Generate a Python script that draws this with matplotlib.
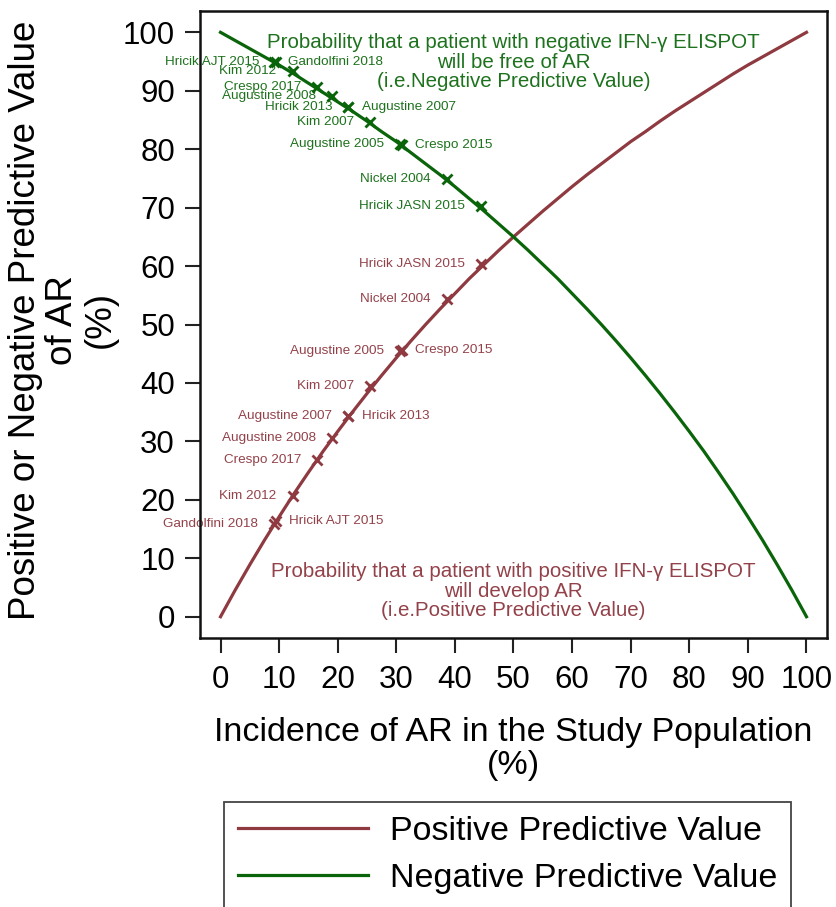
import matplotlib
matplotlib.use("Agg")
import matplotlib.pyplot as plt

plt.rcParams['font.family'] = ['Liberation Sans', 'DejaVu Sans']

# ---- data ----
incidence_grid = [0, 2.5, 5, 7.5, 10, 12.5, 15, 17.5, 20, 22.5, 25, 27.5, 30, 32.5,
                  35, 37.5, 40, 42.5, 45, 47.5, 50, 52.5, 55, 57.5, 60, 62.5,
                  65, 67.5, 70, 72.5, 75, 77.5, 80, 82.5, 85, 87.5, 90, 92.5,
                  95, 97.5, 100]
ppv_curve = [0.0, 4.55, 8.9, 13.1, 17.1, 21.0, 24.7, 28.3, 31.7, 35.0, 38.2,
             41.3, 44.3, 47.2, 50.0, 52.7, 55.3, 57.9, 60.3, 62.7, 65.0,
             67.2, 69.4, 71.5, 73.6, 75.6, 77.5, 79.4, 81.3, 83.0, 84.8,
             86.5, 88.1, 89.7, 91.3, 92.9, 94.4, 95.8, 97.2, 98.6, 100.0]
npv_curve = [100.0, 98.6, 97.2, 95.8, 94.4, 92.9, 91.3, 89.7, 88.1, 86.5, 84.8,
             83.0, 81.3, 79.4, 77.5, 75.6, 73.6, 71.5, 69.4, 67.2, 65.0,
             62.7, 60.3, 57.9, 55.3, 52.7, 50.0, 47.2, 44.3, 41.3, 38.2,
             35.0, 31.7, 28.3, 24.7, 21.0, 17.1, 13.1, 8.9, 4.55, 0.0]

studies = ["Gandolfini 2018", "Hricik AJT 2015", "Kim 2012", "Crespo 2017",
           "Augustine 2008", "Augustine 2007", "Hricik 2013", "Kim 2007",
           "Augustine 2005", "Crespo 2015", "Nickel 2004", "Hricik JASN 2015"]
study_incidence = [9.2, 9.4, 12.3, 16.5, 19.1, 21.8, 21.8, 25.5, 30.7, 30.9, 38.6, 44.5]
study_ppv = [15.9, 16.3, 20.7, 26.8, 30.5, 34.3, 34.3, 39.4, 45.4, 45.6, 54.4, 60.3]
study_npv = [95.0, 94.9, 93.3, 90.7, 89.1, 87.2, 87.2, 84.6, 80.9, 80.8, 74.9, 70.2]
ppv_label_side = ['left', 'right', 'left', 'left', 'left', 'left', 'right',
                  'left', 'left', 'right', 'left', 'left']
npv_label_side = ['right', 'left', 'left', 'left', 'left', 'right', 'left',
                  'left', 'left', 'right', 'left', 'left']

x_ticks = [0, 10, 20, 30, 40, 50, 60, 70, 80, 90, 100]
y_ticks = [0, 10, 20, 30, 40, 50, 60, 70, 80, 90, 100]

ppv_note = ("Probability that a patient with positive IFN-\u03b3 ELISPOT\n"
            "will develop AR\n(i.e.Positive Predictive Value)")
npv_note = ("Probability that a patient with negative IFN-\u03b3 ELISPOT\n"
            "will be free of AR\n(i.e.Negative Predictive Value)")

RED = '#8E3A40'
GREEN = '#0A640A'
RED_TXT = '#93424A'
GREEN_TXT = '#1E721E'

W, H = 837, 907
fig = plt.figure(figsize=(W / 100, H / 100), dpi=100)
ax = fig.add_axes([200 / W, 1 - 638 / H, 627 / W, 627 / H])

l1, = ax.plot(incidence_grid, ppv_curve, color=RED, lw=2.3,
              label='Positive Predictive Value', zorder=3)
l2, = ax.plot(incidence_grid, npv_curve, color=GREEN, lw=2.3,
              label='Negative Predictive Value', zorder=3)

ax.plot(study_incidence, study_ppv, linestyle='none', marker='x',
        color=RED, ms=7, mew=2, zorder=4)
ax.plot(study_incidence, study_npv, linestyle='none', marker='x',
        color=GREEN, ms=7, mew=2, zorder=4)

for name, x, y, side in zip(studies, study_incidence, study_ppv, ppv_label_side):
    dx = -11.5 if side == 'left' else 10
    ax.annotate(name, (x, y), xytext=(dx, 0), textcoords='offset points',
                ha='right' if side == 'left' else 'left', va='center',
                fontsize=9.7, color=RED_TXT, zorder=2)
for name, x, y, side in zip(studies, study_incidence, study_npv, npv_label_side):
    dx = -11.5 if side == 'left' else 10
    ax.annotate(name, (x, y), xytext=(dx, 0), textcoords='offset points',
                ha='right' if side == 'left' else 'left', va='center',
                fontsize=9.7, color=GREEN_TXT, zorder=2)

ax.text(50, 94.9, npv_note, ha='center', va='center', fontsize=14.8,
        color=GREEN_TXT, linespacing=1.02)
ax.text(50, 4.4, ppv_note, ha='center', va='center', fontsize=14.8,
        color=RED_TXT, linespacing=1.02)

ax.set_xlim(-3.5, 103.5)
ax.set_ylim(-3.64, 103.65)
ax.set_xticks(x_ticks)
ax.set_yticks(y_ticks)
ax.tick_params(axis='both', direction='out', length=11, width=1.5,
               labelsize=22.5, color='#222222')
ax.tick_params(axis='x', pad=8.5)
ax.tick_params(axis='y', pad=7)
for s in ax.spines.values():
    s.set_linewidth(1.8)
    s.set_color('#111111')

fig.text(63 / W, 1 - 320 / H, "Positive or Negative Predictive Value\nof AR\n(%)",
         rotation=90, ha='center', va='center', fontsize=26.5,
         multialignment='center', linespacing=1.08)
fig.text(513.5 / W, 1 - 749 / H, "Incidence of AR in the Study Population\n(%)",
         ha='center', va='center', fontsize=24.5, multialignment='center',
         linespacing=1.12)

leg = fig.legend(handles=[l1, l2], loc='upper left',
                 bbox_to_anchor=(224 / W, 1 - 802 / H),
                 bbox_transform=fig.transFigure, borderaxespad=0,
                 fontsize=24.5, handlelength=3.8, handletextpad=0.65,
                 labelspacing=0.45, borderpad=0.42, fancybox=False,
                 framealpha=1, edgecolor='#444444')
leg.get_frame().set_linewidth(1.3)

fig.savefig('out.png', dpi=100)
